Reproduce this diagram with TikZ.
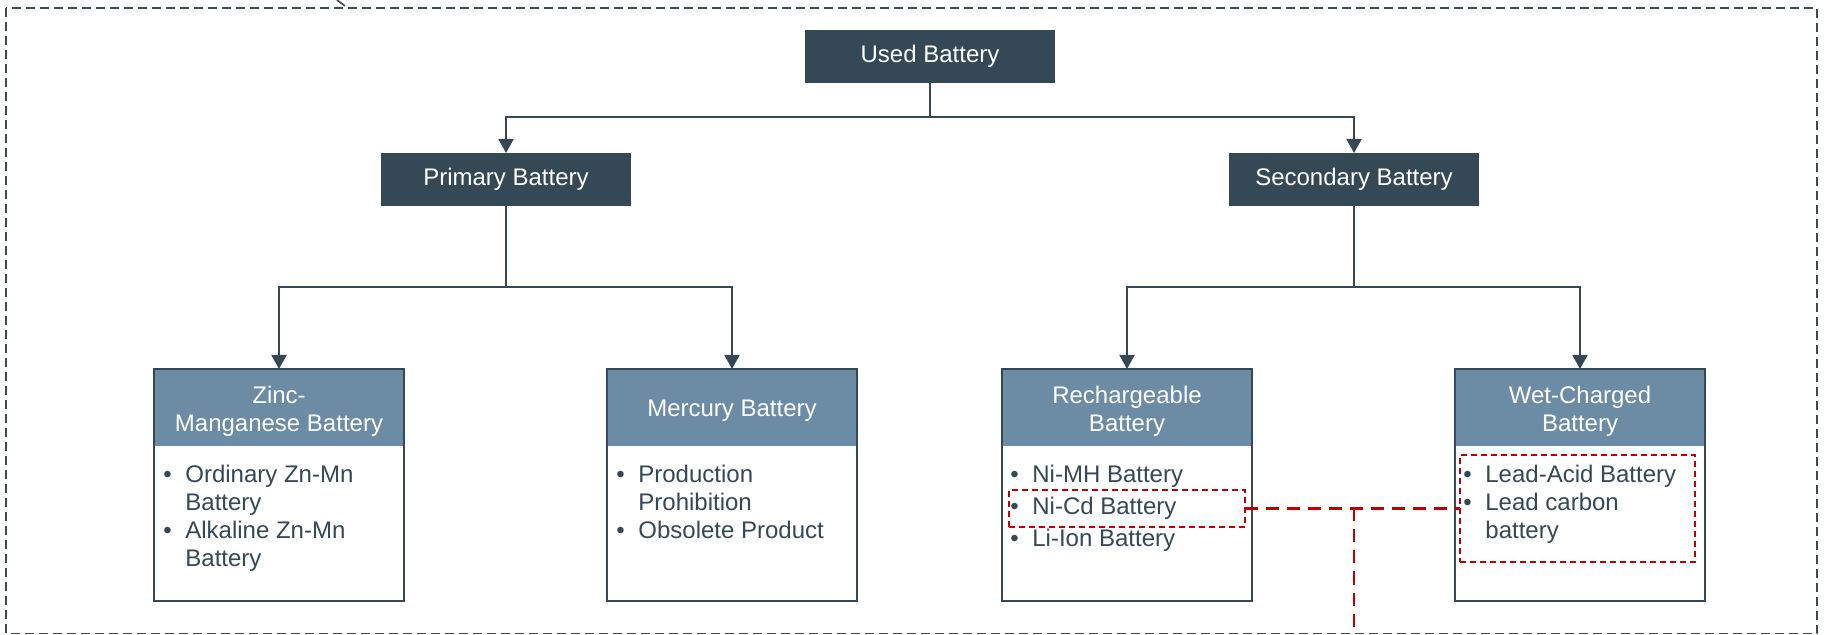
\documentclass[tikz,border=0pt]{standalone}
\usepackage{fontspec}
\setmainfont{Liberation Sans}
\usetikzlibrary{arrows.meta}
\definecolor{dark}{HTML}{354856}
\definecolor{hdrfill}{HTML}{6B8CA4}
\definecolor{redc}{HTML}{C00000}
\definecolor{frame}{HTML}{3E4A56}
\begin{document}
\begin{tikzpicture}[x=0.5pt,y=-0.5pt,
  font=\fontsize{12}{14}\selectfont,
  topbox/.style={rectangle, fill=dark, text=white, minimum width=125pt, minimum height=26.5pt, inner sep=0pt, outer sep=0pt},
  lowbox/.style={rectangle, fill=white, minimum width=125pt, minimum height=116pt, inner sep=0pt, outer sep=0pt},
  hdr/.style={rectangle, fill=hdrfill, minimum width=124pt, minimum height=38.5pt, inner sep=0pt, outer sep=0pt, anchor=north},
  hdrtext/.style={text=white, align=center, inner sep=0pt, yshift=-1.8pt},
  body/.style={anchor=base west, inner sep=0pt, text=dark, align=left},
  boxline/.style={draw=dark, line width=1pt},
  conn/.style={draw=dark, line width=1pt},
  arrowc/.style={conn, -{Triangle[width=7.5pt,length=7pt]}},
  redbox/.style={rectangle, draw=redc, line width=0.8pt, dash pattern=on 3pt off 2pt, minimum width=118pt, minimum height=18.5pt, inner sep=0pt, outer sep=0pt},
  redline/.style={draw=redc, line width=1.3pt, dash pattern=on 6.5pt off 4pt}
]
\useasboundingbox (0,0) rectangle (1825,635);
% outer frame
\draw[frame, line width=0.85pt, dash pattern=on 4.5pt off 2.5pt] (6,8) rectangle (1817,633.5);
\draw[frame, line width=0.85pt] (337,0) -- (345,6);

% top level
\node[topbox] (used) at (930,56.5) {Used Battery};
\node[topbox] (primary) at (506,179.5) {Primary Battery};
\node[topbox] (secondary) at (1354,179.5) {Secondary Battery};

% lower boxes
\node[lowbox] (zinc) at (279,485) {};
\node[lowbox] (mercury) at (732,485) {};
\node[lowbox] (rech) at (1127,485) {};
\node[lowbox] (wet) at (1580,485) {};

\node[hdr] (zinch) at (zinc.north) {};
\node[hdr] (mercuryh) at (mercury.north) {};
\node[hdr] (rechh) at (rech.north) {};
\node[hdr] (weth) at (wet.north) {};
\node[hdrtext] (zinct) at (zinch.center) {Zinc-\\Manganese Battery};
\node[hdrtext] (mercuryt) at (mercuryh.center) {Mercury Battery};
\node[hdrtext] (recht) at (rechh.center) {Rechargeable\\Battery};
\node[hdrtext] (wett) at (weth.center) {Wet-Charged\\Battery};

\foreach \b in {zinc,mercury,rech,wet}{
  \draw[boxline] (\b.south west) rectangle (\b.north east);
}

% bodies
\node[body] (zincb) at (163,483) {\begin{tabular}[t]{@{}p{11pt}@{}l@{}}\textbullet & Ordinary Zn-Mn\\ & Battery\\ \textbullet & Alkaline Zn-Mn\\ & Battery\end{tabular}};
\node[body] (mercuryb) at (616,483) {\begin{tabular}[t]{@{}p{11pt}@{}l@{}}\textbullet & Production\\ & Prohibition\\ \textbullet & Obsolete Product\end{tabular}};
\node[body] (rechb) at (1010,483) {\begin{tabular}[t]{@{}p{11pt}@{}l@{}}\textbullet & Ni-MH Battery\\[2pt] \textbullet & Ni-Cd Battery\\[2pt] \textbullet & Li-Ion Battery\end{tabular}};
\node[body] (wetb) at (1463,483) {\begin{tabular}[t]{@{}p{11pt}@{}l@{}}\textbullet & Lead-Acid Battery\\ \textbullet & Lead carbon\\ & battery\end{tabular}};

% connectors
\coordinate (t1) at (930,117);
\coordinate (p1) at (506,287);
\coordinate (s1) at (1354,287);
\draw[conn] (used.south) -- (t1);
\draw[arrowc] (t1) -| (primary.north);
\draw[arrowc] (t1) -| (secondary.north);
\draw[conn] (primary.south) -- (p1);
\draw[arrowc] (p1) -| (zinc.north);
\draw[arrowc] (p1) -| (mercury.north);
\draw[conn] (secondary.south) -- (s1);
\draw[arrowc] (s1) -| (rech.north);
\draw[arrowc] (s1) -| (wet.north);

% red highlights
\node[redbox] (nicd) at (1127,508.5) {};
\node[redbox, minimum width=117.5pt, minimum height=53.5pt] (lead) at (1577.5,508.5) {};
\coordinate (rj) at (1354,508.5);
\coordinate (rb) at (1354,640);
\draw[redline] (nicd.east) -- (lead.west);
\draw[redline] (rj) -- (rb);
\end{tikzpicture}
\end{document}
